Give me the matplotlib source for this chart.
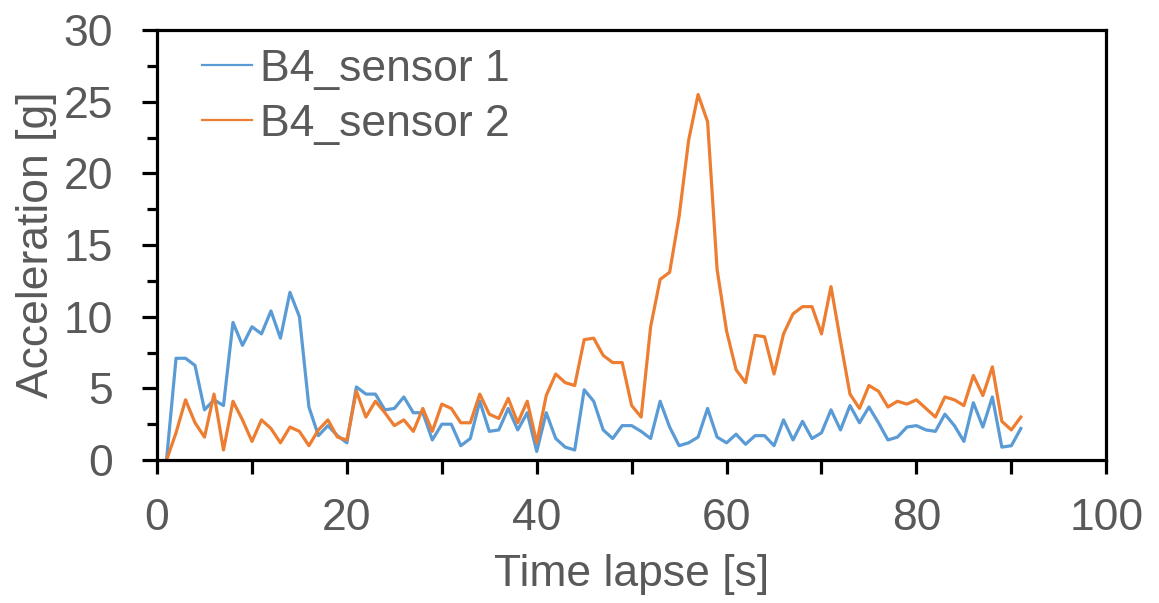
"""B4 sensor acceleration over time (matplotlib -> out.png)."""

import matplotlib
matplotlib.use("Agg")
import matplotlib.pyplot as plt
from matplotlib.ticker import MultipleLocator

plt.rcParams["font.family"] = ["Liberation Sans", "DejaVu Sans"]

# time in seconds
time_s = list(range(1, 92))

sensor1 = [
    0.0, 7.1, 7.1, 6.6, 3.5, 4.2, 3.8, 9.6, 8.0, 9.3,
    8.8, 10.4, 8.5, 11.7, 10.0, 3.7, 1.7, 2.4, 1.7, 1.2,
    5.1, 4.6, 4.6, 3.5, 3.6, 4.4, 3.3, 3.3, 1.4, 2.5,
    2.5, 1.0, 1.5, 4.1, 2.0, 2.1, 3.6, 2.1, 3.3, 0.6,
    3.3, 1.5, 0.9, 0.7, 4.9, 4.1, 2.1, 1.5, 2.4, 2.4,
    2.0, 1.5, 4.1, 2.3, 1.0, 1.2, 1.6, 3.6, 1.6, 1.2,
    1.8, 1.1, 1.7, 1.7, 1.0, 2.8, 1.4, 2.7, 1.5, 1.9,
    3.5, 2.1, 3.8, 2.6, 3.7, 2.6, 1.4, 1.6, 2.3, 2.4,
    2.1, 2.0, 3.2, 2.4, 1.3, 4.0, 2.3, 4.4, 0.9, 1.0,
    2.2,
]

sensor2 = [
    0.0, 1.9, 4.2, 2.6, 1.6, 4.6, 0.7, 4.1, 2.8, 1.3,
    2.8, 2.2, 1.2, 2.3, 2.0, 1.0, 2.1, 2.8, 1.6, 1.4,
    4.8, 3.0, 4.1, 3.3, 2.4, 2.8, 2.0, 3.6, 2.0, 3.9,
    3.6, 2.6, 2.6, 4.6, 3.2, 2.9, 4.3, 2.6, 4.1, 1.2,
    4.5, 6.0, 5.4, 5.2, 8.4, 8.5, 7.3, 6.8, 6.8, 3.8,
    3.0, 9.3, 12.6, 13.1, 17.0, 22.3, 25.5, 23.6, 13.3, 9.0,
    6.3, 5.4, 8.7, 8.6, 6.0, 8.8, 10.2, 10.7, 10.7, 8.8,
    12.1, 8.3, 4.6, 3.6, 5.2, 4.8, 3.7, 4.1, 3.9, 4.2,
    3.6, 3.0, 4.4, 4.2, 3.8, 5.9, 4.5, 6.5, 2.7, 2.1,
    3.0,
]

labels = ["B4_sensor 1", "B4_sensor 2"]
colors = ["#5B9BD5", "#ED7D31"]
text_gray = "#595959"
fs = 32

fig = plt.figure(figsize=(11.59, 6.03), dpi=100)
ax = fig.add_axes([0.1355, 0.2371, 0.819, 0.7131])

ax.plot(time_s, sensor1, color=colors[0], linewidth=2.3, label=labels[0])
ax.plot(time_s, sensor2, color=colors[1], linewidth=2.3, label=labels[1])

ax.set_xlim(0, 100)
ax.set_ylim(0, 30)
ax.xaxis.set_major_locator(MultipleLocator(20))
ax.xaxis.set_minor_locator(MultipleLocator(10))
ax.yaxis.set_major_locator(MultipleLocator(5))
ax.yaxis.set_minor_locator(MultipleLocator(2.5))

for side in ["left", "right", "top", "bottom"]:
    ax.spines[side].set_linewidth(2.3)
    ax.spines[side].set_color("black")

ax.tick_params(axis="both", which="both", direction="out", width=2.3,
               color="black", labelsize=fs, labelcolor=text_gray)
ax.tick_params(axis="y", which="major", length=10.5, pad=21)
ax.tick_params(axis="y", which="minor", length=7)
ax.tick_params(axis="x", which="both", length=10, pad=17)

ax.set_xlabel("Time lapse [s]", fontsize=fs, color=text_gray, labelpad=11)
ax.set_ylabel("Acceleration [g]", fontsize=fs, color=text_gray, labelpad=5)

leg = ax.legend(loc="upper left", bbox_to_anchor=(0.047, 0.957), frameon=False,
                fontsize=fs, labelspacing=0.32, handlelength=1.13,
                handletextpad=0.18, borderpad=0, borderaxespad=0)
for line in leg.get_lines():
    line.set_linewidth(1.6)
for t in leg.get_texts():
    t.set_color(text_gray)

fig.savefig("out.png", dpi=100)
plt.close(fig)
